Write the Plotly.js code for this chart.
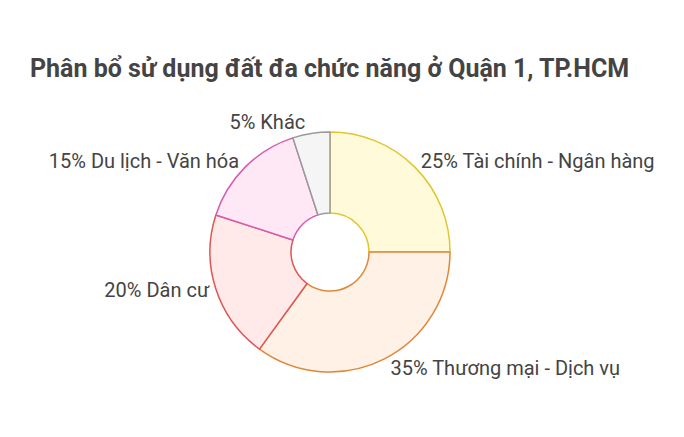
<!DOCTYPE html>
<html>
<head>
<meta charset="utf-8">
<script src="https://cdn.plot.ly/plotly-3.0.1.min.js"></script>
<style>html,body{margin:0;padding:0;background:#fff;}#chart{width:684px;height:437px;}</style>
</head>
<body>
<div id="chart"></div>
<script>
const categories = ["Tài chính - Ngân hàng", "Thương mại - Dịch vụ", "Dân cư", "Du lịch - Văn hóa", "Khác"];
const values = [25, 35, 20, 15, 5];
const fillColors = ["#FFFBDA", "#FFF1E6", "#FFE9E9", "#FFE8F5", "#F5F5F5"];
const lineColors = ["#E3C52A", "#E0873A", "#DE5656", "#D95AAC", "#9A9A9A"];
const titleText = "Phân bổ sử dụng đất đa chức năng ở Quận 1, TP.HCM";

const data = [{
  type: "pie",
  labels: categories,
  values: values,
  sort: false,
  direction: "clockwise",
  rotation: 0,
  hole: 0.325,
  marker: { colors: fillColors, line: { color: lineColors, width: 1.5 } },
  textposition: "outside",
  texttemplate: "%{percent} %{label}",
  outsidetextfont: { family: "Roboto, sans-serif", size: 20, color: "#444" },
  textfont: { family: "Roboto, sans-serif", size: 20, color: "#444" },
  showlegend: false,
  hoverinfo: "label+percent"
}];

const layout = {
  width: 684,
  height: 437,
  margin: { l: 80, r: 104, t: 132, b: 65 },
  paper_bgcolor: "#fff",
  plot_bgcolor: "#fff",
  title: {
    text: "<b>" + titleText + "</b>",
    font: { family: "Roboto, sans-serif", size: 25, color: "#444" },
    xref: "container", yref: "container",
    x: 30 / 684, xanchor: "left",
    y: 1 - 68 / 437, yanchor: "middle"
  },
  showlegend: false
};

Plotly.newPlot("chart", data, layout, { displayModeBar: false, staticPlot: true });
</script>
</body>
</html>
